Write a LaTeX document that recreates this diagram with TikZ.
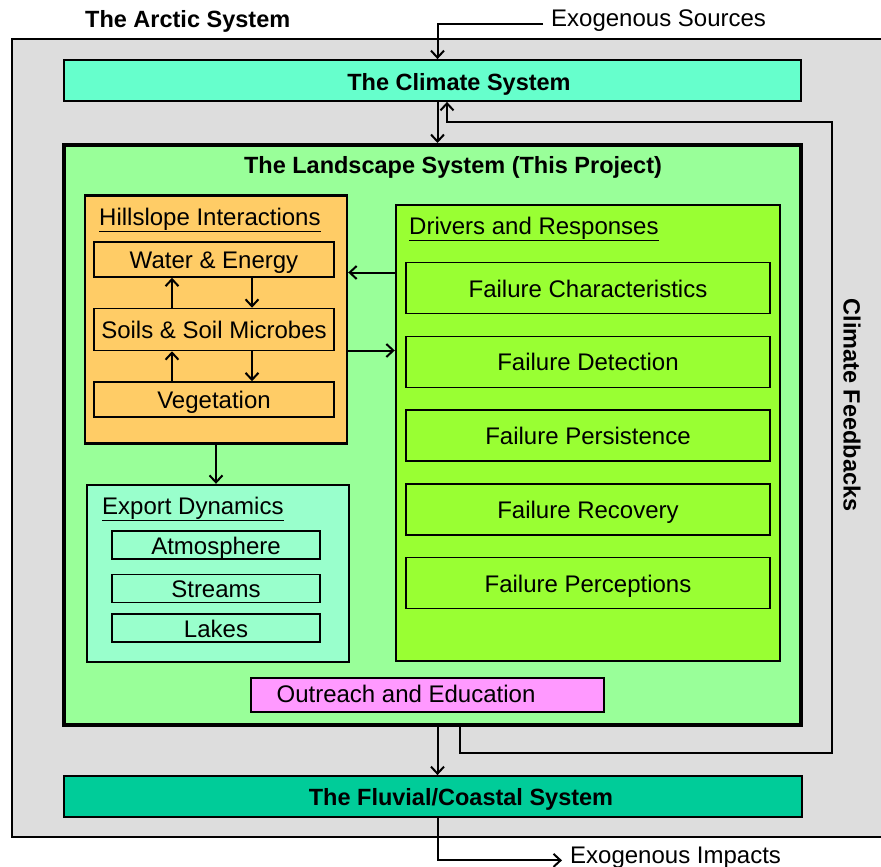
\documentclass[tikz,border=0pt]{standalone}
\usepackage{fontspec}
\setmainfont{Liberation Sans}
\usetikzlibrary{arrows.meta}

\definecolor{arcticgray}{HTML}{DDDDDD}
\definecolor{climatecol}{HTML}{66FFCC}
\definecolor{landcol}{HTML}{99FF99}
\definecolor{hillcol}{HTML}{FFCC66}
\definecolor{exportcol}{HTML}{99FFCC}
\definecolor{drivercol}{HTML}{99FF33}
\definecolor{outreachcol}{HTML}{FF99FF}
\definecolor{fluvialcol}{HTML}{00CC99}

\begin{document}
\begin{tikzpicture}[x=1pt,y=-1pt,
        txt/.style={inner sep=0pt,font=\fontsize{24}{28}\selectfont},
        bold/.style={inner sep=0pt,font=\fontsize{23.5}{28}\selectfont\bfseries},
        sysbox/.style={draw,line width=1.8pt,inner sep=0pt},
        groupbox/.style={draw,line width=2.4pt,inner sep=0pt},
        itembox/.style={draw,line width=1.5pt,inner sep=0pt,text height=18pt,text depth=0pt,font=\fontsize{24}{28}\selectfont},
        conn/.style={line width=2pt},
        arr/.style={conn,-{Straight Barb[length=7pt,width=13pt]}}]
        \useasboundingbox (0,0) rectangle (881,867);
        % Arctic system
        \node[sysbox,fill=arcticgray,minimum width=872,minimum height=798] (arctic) at (448,438) {};
        \node[bold,anchor=base west] (arctictitle) at (85,28) {The Arctic System};
        \node[txt,anchor=base west] (exsrc) at (551,27) {Exogenous Sources};
        % Climate and fluvial systems
        \node[sysbox,fill=climatecol,minimum width=737,minimum height=41] (climate) at (432.5,80.5) {};
        \node[bold,anchor=base] (climatetext) at (459,91) {The Climate System};
        \node[sysbox,fill=fluvialcol,minimum width=738,minimum height=41] (fluvial) at (433,796.5) {};
        \node[bold,anchor=base] (fluvialtext) at (461,805) {The Fluvial/Coastal System};
        \node[txt,anchor=base west] (eximp) at (570,863) {Exogenous Impacts};
        \node[bold,rotate=-90] (feedback) at (852,405) {Climate Feedbacks};
        % Landscape system
        \node[draw,line width=4pt,fill=landcol,minimum width=737,minimum height=580,inner sep=0pt] (land) at (432.5,435) {};
        \node[bold,anchor=base] (landtitle) at (453,173) {The Landscape System (This Project)};
        % Hillslope interactions
        \node[groupbox,fill=hillcol,minimum width=262,minimum height=248] (hill) at (216,319.5) {};
        \node[txt,anchor=base west] (hilltitle) at (99,225) {\underline{Hillslope Interactions}};
        \node[itembox,minimum width=240,minimum height=35] (water) at (214,259.5) {Water \& Energy};
        \node[itembox,minimum width=240,minimum height=42] (soils) at (214,329.5) {Soils \& Soil Microbes};
        \node[itembox,minimum width=240,minimum height=35] (veg) at (214,399.5) {Vegetation};
        % Export dynamics
        \node[groupbox,fill=exportcol,minimum width=262,minimum height=177] (export) at (218,573.5) {};
        \node[txt,anchor=base west] (exporttitle) at (102,514) {\underline{Export Dynamics}};
        \node[itembox,minimum width=208,minimum height=28] (atmo) at (216,545) {Atmosphere};
        \node[itembox,minimum width=208,minimum height=28] (streams) at (216,588.5) {Streams};
        \node[itembox,minimum width=208,minimum height=28] (lakes) at (216,628) {Lakes};
        % Drivers and responses
        \node[groupbox,fill=drivercol,minimum width=384,minimum height=456] (drivers) at (588,433) {};
        \node[txt,anchor=base west] (driverstitle) at (409,234) {\underline{Drivers and Responses}};
        \foreach \name [count=\i] in {Characteristics,Detection,Persistence,Recovery,Perceptions} {
            \node[itembox,minimum width=364,minimum height=51] (fail\i) at (588,{214.2+73.8*\i}) {Failure \name};
        }
        % Outreach
        \node[itembox,fill=outreachcol,minimum width=353,minimum height=34] (outreach) at (427.5,695) {};
        \node[txt] (outreachtext) at (406,694) {Outreach and Education};
        % Connectors
        \coordinate (csrc) at ([xshift=5pt]climate.north);
        \coordinate (cdown) at ([xshift=5pt]climate.south);
        \coordinate (cup) at ([xshift=14.5pt]climate.south);
        \coordinate (fbout) at ([xshift=27.5pt]land.south);
        \coordinate (fbcorner) at (832,753);
        \coordinate (fbturn) at (832,122);
        \coordinate (ldown) at ([xshift=5pt]land.south);
        \coordinate (fout) at ([xshift=4.5pt]fluvial.south);
        \coordinate (hd1) at ([yshift=47pt]hill.east);
        \coordinate (hd2) at ([yshift=-31pt]hill.east);
        \draw[arr] ([xshift=-8pt]exsrc.mid west) -| (csrc);
        \draw[arr] (cdown) -- (cdown |- land.north);
        \draw[arr] (fbout) |- (fbcorner) -- (fbturn) -| (cup);
        \draw[arr] (ldown) -- (ldown |- fluvial.north);
        \draw[arr] (fout) |- ([xshift=-8pt]eximp.mid west);
        \draw[arr] ([xshift=-42pt]soils.north) -- ([xshift=-42pt]water.south);
        \draw[arr] ([xshift=38pt]water.south) -- ([xshift=38pt]soils.north);
        \draw[arr] ([xshift=-42pt]veg.north) -- ([xshift=-42pt]soils.south);
        \draw[arr] ([xshift=38pt]soils.south) -- ([xshift=38pt]veg.north);
        \draw[arr] (hill.south) -- (hill.south |- export.north);
        \draw[arr] (hd1 -| drivers.west) -- (hd1);
        \draw[arr] (hd2) -- (hd2 -| drivers.west);
    \end{tikzpicture}
\end{document}
